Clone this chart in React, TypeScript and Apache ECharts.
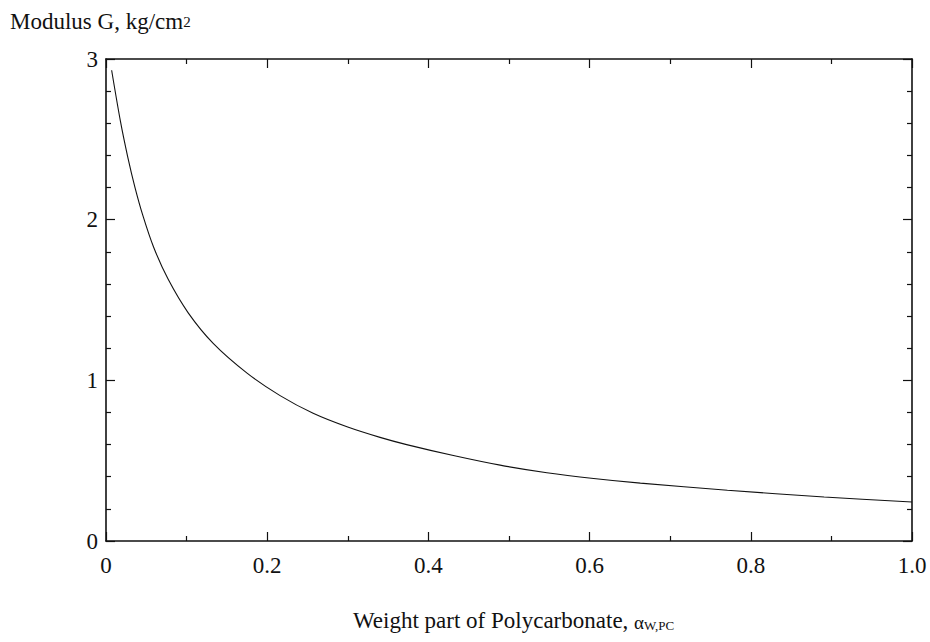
import React, { useEffect, useRef } from "react";
import * as echarts from "echarts";

const xValues = [0.007, 0.018, 0.027, 0.036, 0.0455, 0.059, 0.077, 0.102, 0.133, 0.175, 0.216, 0.257, 0.299, 0.340, 0.373, 0.431, 0.489, 0.547, 0.605, 0.663, 0.771, 0.891, 1.0];
const gValues = [2.93, 2.61, 2.39, 2.20, 2.03, 1.83, 1.63, 1.42, 1.23, 1.045, 0.905, 0.795, 0.711, 0.645, 0.600, 0.532, 0.472, 0.425, 0.389, 0.360, 0.316, 0.274, 0.243];
const xTickLabels: Record<string, string> = { "0": "0", "0.2": "0.2", "0.4": "0.4", "0.6": "0.6", "0.8": "0.8", "1": "1.0" };
const yTickLabels: Record<string, string> = { "0": "0", "1": "1", "2": "2", "3": "3" };

const FONT = "'Liberation Serif', 'DejaVu Serif', serif";
const INK = "#111";

export default function App() {
  const ref = useRef<HTMLDivElement>(null);
  useEffect(() => {
    if (!ref.current) return;
    const chart = echarts.init(ref.current, null, { renderer: "svg" });
    const data = xValues.map((x, i) => [x, gValues[i]]);
    const axisLine = { show: true, onZero: false, lineStyle: { color: INK, width: 1.6 } };
    const xCommon = {
      type: "value" as const,
      min: 0,
      max: 1,
      interval: 0.2,
      splitLine: { show: false },
      axisLine,
      axisTick: { show: true, inside: true, length: 9, lineStyle: { color: INK, width: 1.2 } },
      minorTick: { show: true, splitNumber: 2, length: 5, lineStyle: { color: INK, width: 1.2 } },
      minorSplitLine: { show: false },
    };
    const yCommon = {
      type: "value" as const,
      min: 0,
      max: 3,
      interval: 1,
      splitLine: { show: false },
      axisLine,
      axisTick: { show: true, inside: true, length: 9, lineStyle: { color: INK, width: 1.2 } },
      minorTick: { show: true, splitNumber: 5, length: 5, lineStyle: { color: INK, width: 1.2 } },
      minorSplitLine: { show: false },
    };
    chart.setOption({
      animation: false,
      backgroundColor: "#fff",
      grid: { left: 106, right: 18, top: 59, bottom: 101, containLabel: false },
      xAxis: [
        {
          ...xCommon,
          position: "bottom",
          axisLabel: {
            show: true,
            margin: 13,
            fontFamily: FONT,
            fontSize: 23,
            color: INK,
            formatter: (v: number) => xTickLabels[String(Math.round(v * 10) / 10)] ?? "",
          },
        },
        { ...xCommon, position: "top", axisLabel: { show: false } },
      ],
      yAxis: [
        {
          ...yCommon,
          position: "left",
          axisLabel: {
            show: true,
            margin: 8,
            fontFamily: FONT,
            fontSize: 23,
            color: INK,
            formatter: (v: number) => yTickLabels[String(Math.round(v))] ?? "",
          },
        },
        { ...yCommon, position: "right", axisLabel: { show: false } },
      ],
      graphic: [
        {
          type: "text",
          left: 10,
          top: 10,
          style: {
            text: "{a|Modulus G, kg/cm}{s|2}",
            rich: {
              a: { fontFamily: FONT, fontSize: 23, fill: INK, verticalAlign: "bottom", lineHeight: 28 },
              s: { fontFamily: FONT, fontSize: 15, fill: INK, verticalAlign: "bottom", lineHeight: 28, padding: [0, 0, 4, 0] },
            },
          },
        },
        {
          type: "text",
          left: 353,
          top: 609,
          style: {
            text: "{a|Weight part of Polycarbonate, }{g|α}{s|W,PC}",
            rich: {
              a: { fontFamily: FONT, fontSize: 23, fill: INK, verticalAlign: "bottom", lineHeight: 28 },
              g: { fontFamily: FONT, fontSize: 19, fill: INK, verticalAlign: "bottom", lineHeight: 28 },
              s: { fontFamily: FONT, fontSize: 13, fill: INK, verticalAlign: "bottom", lineHeight: 28 },
            },
          },
        },
      ],
      series: [
        {
          type: "line",
          data,
          xAxisIndex: 0,
          yAxisIndex: 0,
          showSymbol: false,
          smooth: 0.3,
          lineStyle: { color: INK, width: 1.1 },
          silent: true,
        },
      ],
    });
    return () => chart.dispose();
  }, []);
  return <div ref={ref} style={{ position: "fixed", left: 0, top: 0, width: 930, height: 642, background: "#fff" }} />;
}
